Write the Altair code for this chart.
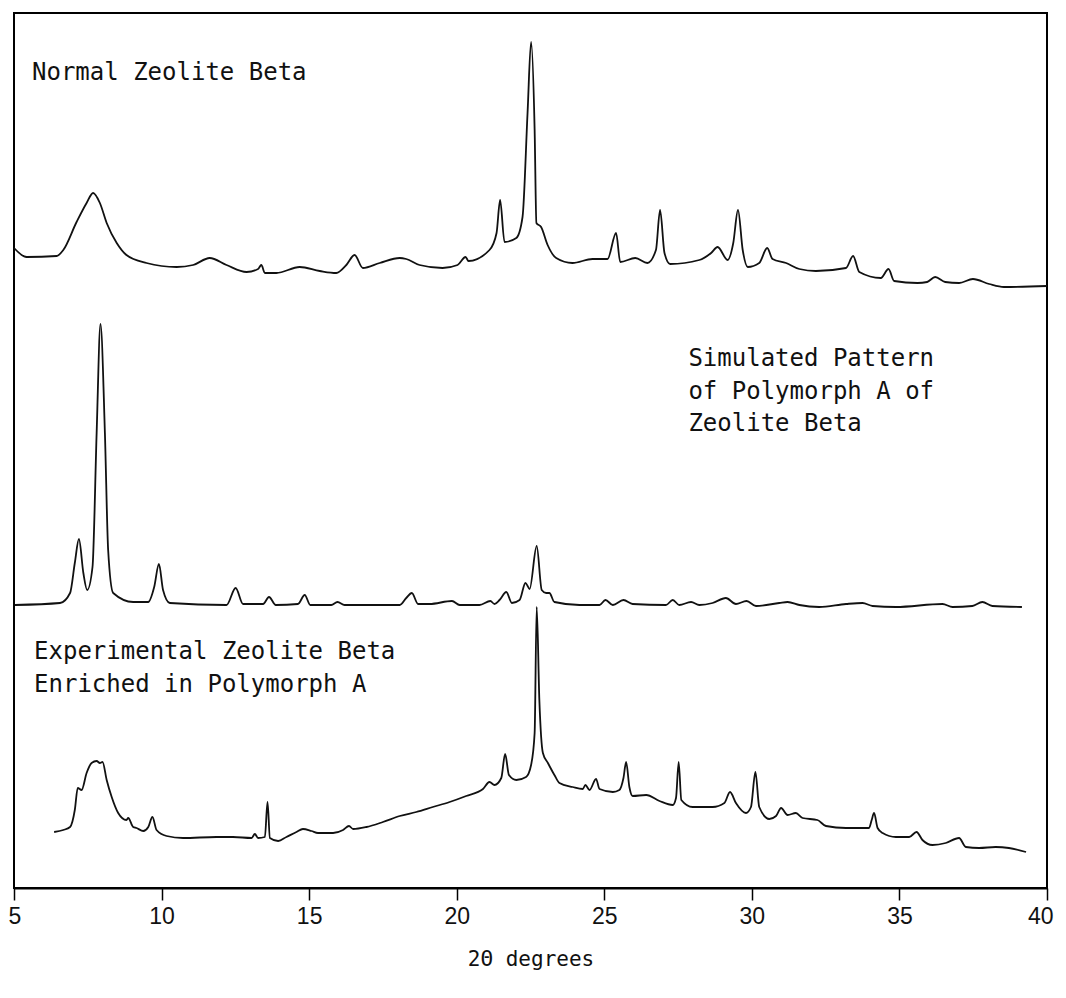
import altair as alt
import pandas as pd

# ---- Normal Zeolite Beta (top trace) ----
normal_2theta = [5.00, 5.43, 6.45, 6.67, 7.12, 7.46, 7.68, 7.91, 8.14, 8.48, 8.81, 9.49, 10.51, 11.07,
                 11.63, 12.20, 12.88, 13.27, 13.38, 13.50, 13.89, 14.68, 15.36, 15.92, 16.26, 16.54,
                 16.82, 17.39, 18.07, 18.29, 18.74, 19.52, 20.03, 20.30, 20.40, 21.11, 21.35, 21.47,
                 21.62, 22.02, 22.23, 22.40, 22.52, 22.64, 22.70, 22.86, 23.08, 23.37, 23.92, 24.60,
                 25.11, 25.40, 25.54, 26.05, 26.46, 26.75, 26.89, 27.04, 27.23, 28.22, 28.62, 28.84,
                 29.18, 29.37, 29.53, 29.69, 29.86, 30.25, 30.52, 30.70, 31.16, 31.61, 32.17, 33.19,
                 33.43, 33.64, 34.37, 34.63, 34.82, 35.61, 35.94, 36.21, 36.55, 37.02, 37.49, 38.04,
                 38.54, 40.00]
normal_int = [640, 631, 632, 638, 666, 685, 695, 685, 665, 645, 633, 625, 621, 623,
              630, 623, 616, 619, 623, 615, 615, 621, 617, 615, 623, 633,
              620, 625, 630, 629, 623, 620, 623, 631, 627, 638, 655, 688,
              646, 650, 671, 775, 846, 758, 665, 661, 643, 630, 625, 629,
              629, 655, 626, 630, 625, 638, 678, 635, 624, 628, 635, 641,
              628, 645, 678, 638, 621, 625, 640, 629, 625, 619, 617, 620,
              632, 616, 610, 619, 607, 605, 606, 611, 606, 605, 609, 604,
              601, 602]

# ---- Simulated pattern of polymorph A (middle trace) ----
sim_2theta = [5.03, 6.56, 6.90, 7.06, 7.20, 7.35, 7.48, 7.66, 7.80, 7.93, 8.08, 8.19, 8.36, 9.04,
              9.55, 9.75, 9.91, 10.05, 10.28, 12.20, 12.51, 12.76, 13.44, 13.64, 13.87, 14.62,
              14.85, 15.04, 15.75, 15.96, 16.20, 18.07, 18.29, 18.48, 18.69, 19.08, 19.84, 20.10,
              20.77, 21.14, 21.28, 21.45, 21.68, 21.87, 22.13, 22.33, 22.47, 22.71, 22.88, 23.03,
              23.14, 23.31, 24.16, 24.84, 25.04, 25.29, 25.65, 25.96, 27.09, 27.32, 27.54, 27.94,
              28.22, 28.67, 29.12, 29.46, 29.82, 30.14, 30.93, 31.21, 31.61, 32.28, 33.19, 33.75,
              34.09, 34.88, 36.46, 36.80, 37.47, 37.81, 38.15, 39.15]
sim_int = [283, 285, 295, 325, 349, 315, 298, 321, 455, 564, 455, 338, 295, 286,
           286, 301, 324, 298, 285, 283, 300, 284, 284, 291, 283, 284,
           293, 283, 283, 286, 283, 283, 290, 295, 284, 284, 287, 283,
           283, 287, 284, 288, 296, 285, 288, 305, 299, 342, 298, 295,
           295, 286, 283, 283, 288, 283, 288, 284, 283, 288, 283, 286,
           283, 285, 290, 284, 287, 282, 285, 286, 283, 281, 284, 285,
           282, 281, 284, 281, 282, 286, 282, 281]

# ---- Experimental zeolite beta enriched in polymorph A (bottom trace) ----
exp_2theta = [6.36, 6.67, 6.90, 7.06, 7.16, 7.29, 7.46, 7.63, 7.80, 7.91, 8.00, 8.14, 8.31, 8.53,
              8.81, 8.87, 9.04, 9.15, 9.38, 9.55, 9.69, 9.83, 10.17, 10.73, 11.86, 12.42, 13.05,
              13.16, 13.27, 13.50, 13.59, 13.67, 13.95, 14.23, 14.57, 14.79, 15.08, 15.30, 15.81,
              16.15, 16.35, 16.49, 16.94, 17.50, 18.07, 18.63, 19.19, 19.76, 20.32, 20.89, 21.11,
              21.28, 21.51, 21.64, 21.77, 22.02, 22.35, 22.52, 22.64, 22.71, 22.80, 22.92, 23.09,
              23.31, 23.48, 23.93, 24.27, 24.36, 24.50, 24.72, 24.84, 25.29, 25.51, 25.65, 25.74,
              25.85, 25.96, 26.42, 26.87, 27.32, 27.43, 27.52, 27.61, 27.99, 28.67, 29.07, 29.26,
              29.46, 29.80, 29.97, 30.12, 30.25, 30.59, 30.82, 30.99, 31.21, 31.49, 31.72, 32.22,
              32.51, 33.19, 33.97, 34.06, 34.14, 34.26, 34.43, 34.88, 35.33, 35.58, 35.78, 36.12,
              36.57, 37.02, 37.25, 37.70, 38.26, 38.71, 39.29]
exp_int = [56, 58, 61, 78, 100, 98, 115, 125, 127, 125, 126, 108, 91, 75,
           68, 70, 61, 60, 57, 61, 71, 58, 52, 50, 51, 51, 50,
           54, 50, 51, 86, 50, 47, 51, 56, 59, 57, 55, 55,
           58, 62, 59, 61, 66, 72, 76, 81, 86, 92, 99, 106,
           103, 110, 134, 113, 108, 111, 123, 155, 281, 188, 135, 125,
           113, 105, 101, 99, 103, 98, 109, 99, 96, 98, 110, 126,
           101, 92, 93, 87, 83, 90, 126, 88, 81, 81, 85, 96,
           85, 75, 81, 116, 81, 69, 72, 80, 73, 75, 70, 68,
           62, 60, 60, 68, 75, 60, 55, 51, 51, 56, 48, 43,
           45, 50, 41, 40, 41, 40, 36]

# ---- annotations ----
label_text = ["Normal Zeolite Beta", "Simulated Pattern", "of Polymorph A of", "Zeolite Beta",
              "Experimental Zeolite Beta", "Enriched in Polymorph A"]
label_2theta = [5.61, 27.85, 27.85, 27.85, 5.68, 5.68]
label_int = [808, 522, 489, 457, 229, 196]

tick_values = [5, 10, 15, 20, 25, 30, 35, 40]

rows = []
for name, xs, ys in [("normal", normal_2theta, normal_int),
                     ("simulated", sim_2theta, sim_int),
                     ("experimental", exp_2theta, exp_int)]:
    for i, (a, b) in enumerate(zip(xs, ys)):
        rows.append({"series": name, "order": i, "two_theta": a, "intensity": b})
df = pd.DataFrame(rows)
lab = pd.DataFrame({"text": label_text, "two_theta": label_2theta, "intensity": label_int})

xscale = alt.Scale(domain=[5, 40], nice=False, zero=False)
yscale = alt.Scale(domain=[0, 875], nice=False, zero=False)

MONO = "DejaVu Sans Mono"

lines = alt.Chart(df).mark_line(color="#111111", strokeWidth=1.8, interpolate="monotone").encode(
    x=alt.X("two_theta:Q", scale=xscale,
            axis=alt.Axis(title="2Θ degrees", values=tick_values, format="d",
                          grid=False, domain=True, domainColor="black", domainWidth=2,
                          ticks=True, tickColor="black", tickSize=12, tickWidth=1.5,
                          labelFont="Liberation Sans", labelFontSize=23, labelColor="#111111",
                          labelPadding=5, labelFlush=True, labelFlushOffset=6,
                          titleFont=MONO, titleFontSize=21, titleFontWeight="normal",
                          titleColor="#111111", titlePadding=20)),
    y=alt.Y("intensity:Q", scale=yscale, axis=None),
    detail="series:N",
    order="order:Q",
)

texts = alt.Chart(lab).mark_text(font=MONO, fontSize=24, align="left",
                                 baseline="alphabetic", color="#111111").encode(
    x=alt.X("two_theta:Q", scale=xscale),
    y=alt.Y("intensity:Q", scale=yscale),
    text="text:N",
)

chart = (lines + texts).properties(
    width=1033, height=875,
    autosize=alt.AutoSizeParams(type="none"),
    padding={"left": 6, "top": 5, "right": 11, "bottom": 100},
).configure(
    background="white",
    view=alt.ViewConfig(stroke="black", strokeWidth=2),
)

chart.save("out.html", embed_options={"renderer": "svg", "actions": False})
